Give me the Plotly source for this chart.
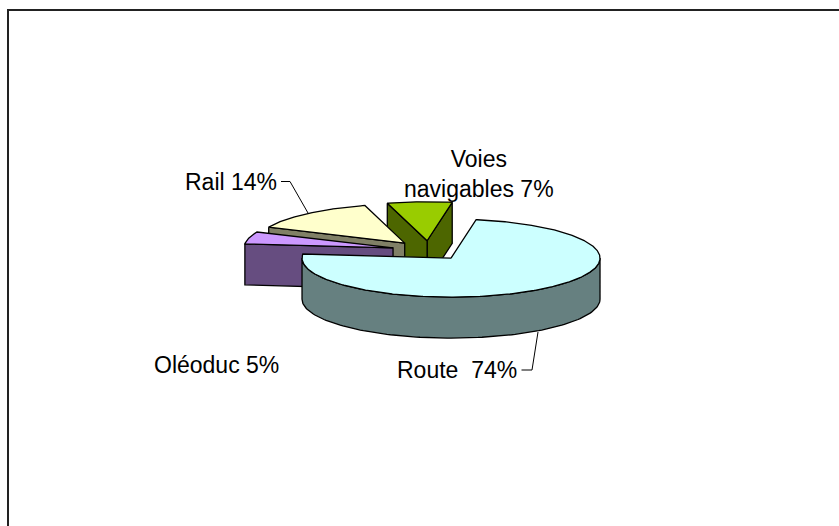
import numpy as np
import plotly.graph_objects as go

# data
labels = ["Route", "Oléoduc", "Rail", "Voies navigables"]
values = [74, 5, 14, 7]
explode = [0.245, 0.25, 0.25, 0.25]
top_colors = ["#CCFFFF", "#CC99FF", "#FFFFCC", "#99CC00"]
side_colors = ["#668080", "#664D80", "#808066", "#4D6600"]
label_texts = ["Route  74%", "Oléoduc 5%", "Rail 14%", "Voies<br>navigables 7%"]

# pie geometry on a pixel-sized plot area
CX, CY, RX, RY, DEPTH = 429, 250.5, 149, 39, 41
START = 9.7
PAINT_ORDER = [3, 2, 1, 0]


def rim(ax, ay, a):
    t = np.radians(a)
    return ax + RX * np.sin(t), ay - RY * np.cos(t)


def face(fig, xs, ys, color):
    fig.add_trace(go.Scatter(x=list(xs) + [xs[0]], y=list(ys) + [ys[0]], mode="lines",
                             fill="toself", fillcolor=color,
                             line=dict(color="#000000", width=1.3), hoverinfo="skip",
                             showlegend=False))


fig = go.Figure()
total = sum(values)
spans = {}
a = START
for i, v in enumerate(values):
    sweep = 360 * v / total
    spans[i] = (a, a + sweep)
    a += sweep

for i in PAINT_ORDER:
    a0, a1 = spans[i]
    mid = np.radians((a0 + a1) / 2)
    ax = CX + explode[i] * RX * np.sin(mid)
    ay = CY - explode[i] * RY * np.cos(mid)
    side = side_colors[i]
    # inner cut faces
    if i != 0:
        x0, y0 = rim(ax, ay, a0)
        x1, y1 = rim(ax, ay, a1)
        if i == 3:
            face(fig, [x1, ax, ax, x1], [y1, ay, ay + DEPTH, y1 + DEPTH], side)
        face(fig, [x0, ax, ax, x0], [y0, ay, ay + DEPTH, y0 + DEPTH], side)
    else:
        # outer wall: the visible front half of the rim
        arc = np.linspace(90, 270, 121)
        px, py = rim(ax, ay, arc)
        face(fig, np.r_[px, px[::-1]], np.r_[py, py[::-1] + DEPTH], side)
    # top surface
    arc = np.linspace(a0, a1, max(int(a1 - a0) * 2, 12))
    px, py = rim(ax, ay, arc)
    face(fig, np.r_[ax, px], np.r_[ay, py], top_colors[i])

# leader lines
fig.add_trace(go.Scatter(x=[281, 290, 308], y=[181.5, 181.5, 213], mode="lines",
                         line=dict(color="#000000", width=1), hoverinfo="skip", showlegend=False))
fig.add_trace(go.Scatter(x=[521.5, 532, 538], y=[370, 370, 332], mode="lines",
                         line=dict(color="#000000", width=1), hoverinfo="skip", showlegend=False))

label_pos = [(456.5, 370), (216, 365), (231, 182), (479, 174)]
for t, (x, y) in zip(label_texts, label_pos):
    fig.add_annotation(x=x, y=y, text=t, showarrow=False, xanchor="center", yanchor="middle",
                       align="center", font=dict(family="Liberation Sans, Arial", size=23, color="#000000"))

# chart frame: the picture is cut off at the right and the bottom
fig.add_shape(type="line", x0=8, x1=8, y0=526, y1=10, line=dict(color="#222222", width=2))
fig.add_shape(type="line", x0=7, x1=839, y0=10, y1=10, line=dict(color="#222222", width=2))

fig.update_layout(width=839, height=526, margin=dict(l=0, r=0, t=0, b=0),
                  paper_bgcolor="#FFFFFF", plot_bgcolor="#FFFFFF",
                  xaxis=dict(range=[0, 839], visible=False, fixedrange=True),
                  yaxis=dict(range=[526, 0], visible=False, fixedrange=True),
                  showlegend=False)
fig.write_html("out.html", config={"displayModeBar": False},
               post_script="document.body.style.margin='0';document.body.style.overflow='hidden';")
